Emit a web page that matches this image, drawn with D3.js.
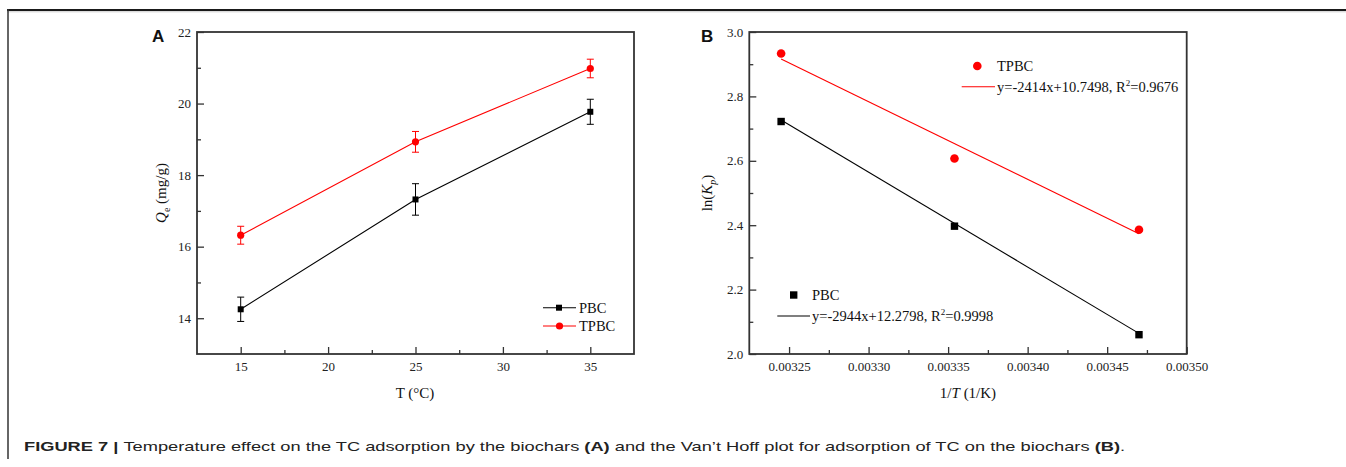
<!DOCTYPE html>
<html>
<head>
<meta charset="utf-8">
<script src="https://cdn.jsdelivr.net/npm/d3@7"></script>
<style>
  body { margin: 0; background: #fff; }
  svg { display: block; }
</style>
</head>
<body>
<script>
// Panel A: temperature effect
const tempC = [15, 25, 35];
const pbcQ = [14.25, 17.32, 19.77];
const pbcErr = [0.34, 0.44, 0.35];
const tpbcQ = [16.32, 18.93, 20.98];
const tpbcErr = [0.25, 0.29, 0.26];
const aXTicks = [15, 20, 25, 30, 35];
const aYTicks = [14, 16, 18, 20, 22];

// Panel B: Van't Hoff plot
const invT = [0.003245, 0.003354, 0.003470];
const pbcLnK = [2.722, 2.397, 2.060];
const tpbcLnK = [2.933, 2.607, 2.386];
const pbcFit = { slope: -2944, intercept: 12.2798, r2: "0.9998" };
const tpbcFit = { slope: -2414, intercept: 10.7498, r2: "0.9676" };
const bXTicks = [0.00325, 0.00330, 0.00335, 0.00340, 0.00345, 0.00350];
const bYTicks = [2.0, 2.2, 2.4, 2.6, 2.8, 3.0];

const width = 1346, height = 467;
const serif = '"Liberation Serif", "Times New Roman", serif';
const sans = '"Liberation Sans", Arial, sans-serif';
const axisColor = "#333";

const svg = d3.select("body").append("svg")
  .attr("width", width).attr("height", height);

// figure frame
svg.append("line").attr("x1", 7).attr("x2", width).attr("y1", 10).attr("y2", 10)
  .attr("stroke", "#1a1a1a").attr("stroke-width", 2);
svg.append("line").attr("x1", 7).attr("x2", width).attr("y1", 11.8).attr("y2", 11.8)
  .attr("stroke", "#ccc").attr("stroke-width", 1);
svg.append("line").attr("x1", 8).attr("x2", 8).attr("y1", 9).attr("y2", 459)
  .attr("stroke", "#333").attr("stroke-width", 1.5);

function styleAxis(a) {
  a.attr("font-family", serif).attr("font-size", 13);
  a.select(".domain").remove();
  a.selectAll("line").attr("stroke", axisColor).attr("stroke-width", 1.3);
  a.selectAll("text").attr("fill", "#222");
}

function drawFrame(g, x, y, xTicks, yTicks, xMinor, yMinor, xFmt, yFmt) {
  const [x0, x1] = x.range();
  const [y0, y1] = y.range();
  g.append("g").attr("transform", `translate(0,${y0})`)
    .call(d3.axisBottom(x).tickValues(xMinor).tickSize(-4).tickFormat(""))
    .call(styleAxis);
  g.append("g").attr("transform", `translate(${x0},0)`)
    .call(d3.axisLeft(y).tickValues(yMinor).tickSize(-4).tickFormat(""))
    .call(styleAxis);
  g.append("g").attr("transform", `translate(0,${y0})`)
    .call(d3.axisBottom(x).tickValues(xTicks).tickSize(-7).tickPadding(8).tickFormat(xFmt))
    .call(styleAxis);
  g.append("g").attr("transform", `translate(${x0},0)`)
    .call(d3.axisLeft(y).tickValues(yTicks).tickSize(-7).tickPadding(6).tickFormat(yFmt))
    .call(styleAxis);
  g.append("rect").attr("x", x0).attr("y", y1).attr("width", x1 - x0).attr("height", y0 - y1)
    .attr("fill", "none").attr("stroke", axisColor).attr("stroke-width", 1.8);
}

// ---------- Panel A ----------
const ax = d3.scaleLinear().domain([12.5, 37.5]).range([197, 634]);
const ay = d3.scaleLinear().domain([13, 22]).range([354, 32]);
const gA = svg.append("g");
drawFrame(gA, ax, ay, aXTicks, aYTicks,
  [17.5, 22.5, 27.5, 32.5], [15, 17, 19, 21], d3.format("d"), d3.format("d"));

const seriesA = [
  { name: "PBC", q: pbcQ, err: pbcErr, color: "#000", shape: "square" },
  { name: "TPBC", q: tpbcQ, err: tpbcErr, color: "#ff0000", shape: "circle" }
];
const lineA = d3.line().x(d => ax(d[0])).y(d => ay(d[1]));
seriesA.forEach(s => {
  const pts = tempC.map((t, i) => [t, s.q[i], s.err[i]]);
  gA.append("path").datum(pts).attr("d", lineA)
    .attr("fill", "none").attr("stroke", s.color).attr("stroke-width", 1.1);
  const eb = gA.append("g").attr("stroke", s.color).attr("stroke-width", 1);
  pts.forEach(p => {
    const cx = ax(p[0]), yt = ay(p[1] + p[2]), yb = ay(p[1] - p[2]);
    eb.append("line").attr("x1", cx).attr("x2", cx).attr("y1", yt).attr("y2", yb);
    eb.append("line").attr("x1", cx - 3.5).attr("x2", cx + 3.5).attr("y1", yt).attr("y2", yt);
    eb.append("line").attr("x1", cx - 3.5).attr("x2", cx + 3.5).attr("y1", yb).attr("y2", yb);
  });
  pts.forEach(p => {
    if (s.shape === "square") {
      gA.append("rect").attr("x", ax(p[0]) - 3).attr("y", ay(p[1]) - 3)
        .attr("width", 6).attr("height", 6).attr("fill", s.color);
    } else {
      gA.append("circle").attr("cx", ax(p[0])).attr("cy", ay(p[1])).attr("r", 3.6).attr("fill", s.color);
    }
  });
});
// legend A
seriesA.forEach((s, i) => {
  const ly = 307.7 + i * 18.3;
  gA.append("line").attr("x1", 543).attr("x2", 576).attr("y1", ly).attr("y2", ly)
    .attr("stroke", s.color).attr("stroke-width", 1.1);
  if (s.shape === "square") {
    gA.append("rect").attr("x", 556).attr("y", ly - 3).attr("width", 6).attr("height", 6).attr("fill", s.color);
  } else {
    gA.append("circle").attr("cx", 559.5).attr("cy", ly).attr("r", 3.6).attr("fill", s.color);
  }
  gA.append("text").attr("x", 579).attr("y", ly + 5).text(s.name)
    .attr("font-family", serif).attr("font-size", 14.5).attr("fill", "#111");
});
// axis titles A
gA.append("text").attr("x", 415).attr("y", 398).attr("text-anchor", "middle")
  .attr("font-family", serif).attr("font-size", 15).attr("fill", "#111").text("T (°C)");
const ylabA = gA.append("text").attr("transform", "translate(166,193) rotate(-90)")
  .attr("text-anchor", "middle").attr("font-family", serif).attr("font-size", 15).attr("fill", "#111");
ylabA.append("tspan").attr("font-style", "italic").text("Q");
ylabA.append("tspan").attr("font-size", 10).attr("dy", 4).text("e");
ylabA.append("tspan").attr("dy", -4).text(" (mg/g)");
gA.append("text").attr("x", 152).attr("y", 42).text("A")
  .attr("font-family", sans).attr("font-weight", "bold")
  .attr("font-size", 17).attr("fill", "#111");

// ---------- Panel B ----------
const bx = d3.scaleLinear().domain([0.003225, 0.0035]).range([749.3, 1186.7]);
const by = d3.scaleLinear().domain([2.0, 3.0]).range([354, 32]);
const gB = svg.append("g");
drawFrame(gB, bx, by, bXTicks, bYTicks,
  [0.003275, 0.003325, 0.003375, 0.003425, 0.003475], [2.1, 2.3, 2.5, 2.7, 2.9],
  d3.format(".5f"), d3.format(".1f"));

const seriesB = [
  { name: "PBC", y: pbcLnK, fit: pbcFit, color: "#000", shape: "square" },
  { name: "TPBC", y: tpbcLnK, fit: tpbcFit, color: "#ff0000", shape: "circle" }
];
const xExt = d3.extent(invT);
seriesB.forEach(s => {
  const f = s.fit;
  gB.append("line")
    .attr("x1", bx(xExt[0])).attr("y1", by(f.slope * xExt[0] + f.intercept))
    .attr("x2", bx(xExt[1])).attr("y2", by(f.slope * xExt[1] + f.intercept))
    .attr("stroke", s.color).attr("stroke-width", 1.1);
  invT.forEach((xv, i) => {
    if (s.shape === "square") {
      gB.append("rect").attr("x", bx(xv) - 3.7).attr("y", by(s.y[i]) - 3.7)
        .attr("width", 7.4).attr("height", 7.4).attr("fill", s.color);
    } else {
      gB.append("circle").attr("cx", bx(xv)).attr("cy", by(s.y[i])).attr("r", 4.3).attr("fill", s.color);
    }
  });
});
// legend B
const legB = [
  { s: seriesB[1], mx: 977.3, my: 66, lx0: 961.7, lx1: 995, ly: 86.7, tx: 997 },
  { s: seriesB[0], mx: 793.7, my: 295, lx0: 777.3, lx1: 810, ly: 316, tx: 812 }
];
legB.forEach(l => {
  if (l.s.shape === "square") {
    gB.append("rect").attr("x", l.mx - 3.7).attr("y", l.my - 3.7).attr("width", 7.4).attr("height", 7.4).attr("fill", l.s.color);
  } else {
    gB.append("circle").attr("cx", l.mx).attr("cy", l.my).attr("r", 4.3).attr("fill", l.s.color);
  }
  gB.append("text").attr("x", l.tx).attr("y", l.my + 5).text(l.s.name)
    .attr("font-family", serif).attr("font-size", 14.5).attr("fill", "#111");
  gB.append("line").attr("x1", l.lx0).attr("x2", l.lx1).attr("y1", l.ly).attr("y2", l.ly)
    .attr("stroke", l.s.color).attr("stroke-width", 1.1);
  const t = gB.append("text").attr("x", l.tx).attr("y", l.ly + 5)
    .attr("font-family", serif).attr("font-size", 14.5).attr("fill", "#111");
  t.append("tspan").text(`y=${l.s.fit.slope}x+${l.s.fit.intercept}, R`);
  t.append("tspan").attr("font-size", 9).attr("dy", -6).text("2");
  t.append("tspan").attr("dy", 6).text(`=${l.s.fit.r2}`);
});
// axis titles B
const xlabB = gB.append("text").attr("x", 968).attr("y", 398).attr("text-anchor", "middle")
  .attr("font-family", serif).attr("font-size", 15).attr("fill", "#111");
xlabB.append("tspan").text("1/");
xlabB.append("tspan").attr("font-style", "italic").text("T");
xlabB.append("tspan").text(" (1/K)");
const ylabB = gB.append("text").attr("transform", "translate(712,193) rotate(-90)")
  .attr("text-anchor", "middle").attr("font-family", serif).attr("font-size", 15).attr("fill", "#111");
ylabB.append("tspan").text("ln(");
ylabB.append("tspan").attr("font-style", "italic").text("K");
ylabB.append("tspan").attr("font-size", 10).attr("dy", 4).attr("font-style", "italic").text("p");
ylabB.append("tspan").attr("dy", -4).text(")");
gB.append("text").attr("x", 701).attr("y", 42).text("B")
  .attr("font-family", sans).attr("font-weight", "bold")
  .attr("font-size", 17).attr("fill", "#111");

// caption (source figure is horizontally stretched, so scale it to the same span)
const capX = 24, capW = 1102;
const cap = svg.append("text").attr("x", 0).attr("y", 0)
  .attr("font-family", sans).attr("font-size", 13.5).attr("fill", "#222");
cap.append("tspan").attr("font-weight", "bold").text("FIGURE 7 | ");
cap.append("tspan").text("Temperature effect on the TC adsorption by the biochars ");
cap.append("tspan").attr("font-weight", "bold").text("(A)");
cap.append("tspan").text(" and the Van’t Hoff plot for adsorption of TC on the biochars ");
cap.append("tspan").attr("font-weight", "bold").text("(B)");
cap.append("tspan").text(".");
const capLen = cap.node().getComputedTextLength();
cap.attr("transform", `translate(${capX},451) scale(${capW / capLen},1)`);
</script>
</body>
</html>
